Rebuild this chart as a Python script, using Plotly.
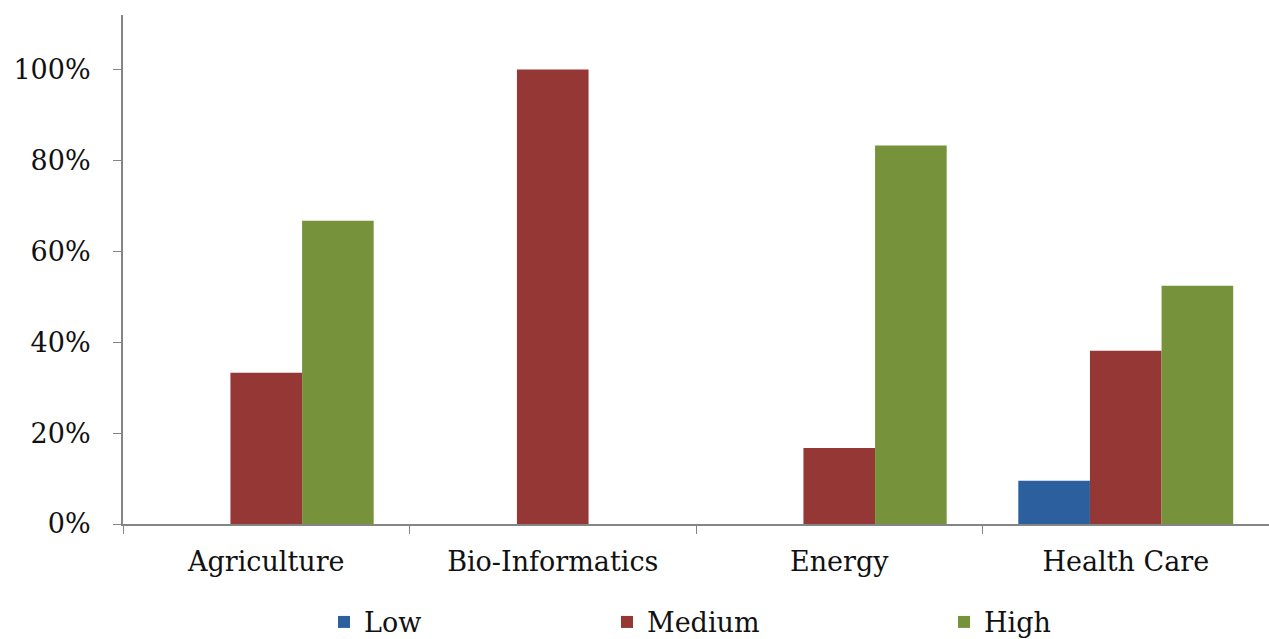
import plotly.graph_objects as go

# Share of projects by impact level in each research domain
categories = ["Agriculture", "Bio-Informatics", "Energy", "Health Care"]
low = [0.0, 0.0, 0.0, 0.095]
medium = [0.333, 1.0, 0.167, 0.381]
high = [0.667, 0.0, 0.833, 0.524]

series_names = ["Low", "Medium", "High"]
series_values = [low, medium, high]
series_colors = ["#2C5F9E", "#953735", "#76933C"]
legend_ids = ["legend", "legend2", "legend3"]

y_tickvals = [0, 0.2, 0.4, 0.6, 0.8, 1.0]
y_ticktext = ["0%", "20%", "40%", "60%", "80%", "100%"]

FONT = "DejaVu Serif"
TEXT_COLOR = "#111111"
FONT_SIZE = 27

fig = go.Figure()
for name, vals, color, lg in zip(series_names, series_values, series_colors, legend_ids):
    fig.add_trace(go.Bar(
        x=categories, y=vals, name=name, legend=lg,
        marker=dict(color=color, line=dict(width=0)),
    ))

axis_color = "#858585"
legend_common = dict(
    orientation="h", xref="container", yref="container",
    yanchor="middle", y=0.026, xanchor="left",
    font=dict(family=FONT, size=FONT_SIZE, color=TEXT_COLOR),
    bgcolor="rgba(0,0,0,0)", borderwidth=0,
)

fig.update_layout(
    width=1269, height=639,
    margin=dict(l=123, r=0, t=15, b=115),
    paper_bgcolor="white", plot_bgcolor="white",
    barmode="group", bargap=0.25, bargroupgap=0,
    font=dict(family=FONT, size=FONT_SIZE, color=TEXT_COLOR),
    showlegend=True,
    legend=dict(x=324 / 1269, **legend_common),
    legend2=dict(x=607 / 1269, **legend_common),
    legend3=dict(x=944 / 1269, **legend_common),
    xaxis=dict(
        showline=True, linecolor=axis_color, linewidth=2,
        ticks="outside", tickson="boundaries", ticklen=8, tickcolor=axis_color, tickwidth=1,
        showgrid=False, zeroline=False,
        ticklabelstandoff=13,
        tickfont=dict(family=FONT, size=FONT_SIZE, color=TEXT_COLOR),
    ),
    yaxis=dict(
        range=[0, 1.12],
        showline=True, linecolor=axis_color, linewidth=2,
        ticks="outside", ticklen=8, tickcolor=axis_color, tickwidth=1,
        tickvals=y_tickvals, ticktext=y_ticktext,
        showgrid=False, zeroline=False,
        ticklabelstandoff=17,
        tickfont=dict(family=FONT, size=FONT_SIZE, color=TEXT_COLOR),
    ),
)

fig.write_html("out.html")
